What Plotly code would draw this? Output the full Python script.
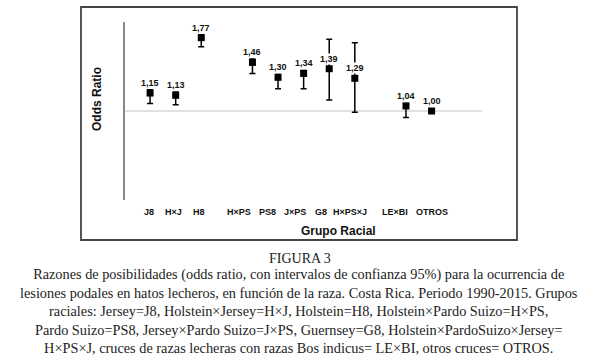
import math
import plotly.graph_objects as go

# ---- data ----
categories = ["J8", "H×J", "H8", " ", "H×PS", "PS8", "J×PS", "G8", "H×PS×J", "  ", "LE×BI", "OTROS"]
groups = ["J8", "H×J", "H8", "H×PS", "PS8", "J×PS", "G8", "H×PS×J", "LE×BI", "OTROS"]
odds_ratio = [1.15, 1.13, 1.77, 1.46, 1.30, 1.34, 1.39, 1.29, 1.04, 1.00]
ci_lower = [1.06, 1.05, 1.65, 1.34, 1.19, 1.19, 1.09, 0.99, 0.95, 1.00]
ci_upper = [1.18, 1.16, 1.81, 1.50, 1.33, 1.37, 1.75, 1.70, 1.06, 1.00]
labels = ["1,15", "1,13", "1,77", "1,46", "1,30", "1,34", "1,39", "1,29", "1,04", "1,00"]

caption_title = "FIGURA 3"
caption_lines = [
    "Razones de posibilidades (odds ratio, con intervalos de confianza 95%) para la ocurrencia de",
    "lesiones podales en hatos lecheros, en función de la raza. Costa Rica. Periodo 1990-2015. Grupos",
    "raciales: Jersey=J8, Holstein×Jersey=H×J, Holstein=H8, Holstein×Pardo Suizo=H×PS,",
    "Pardo Suizo=PS8, Jersey×Pardo Suizo=J×PS, Guernsey=G8, Holstein×PardoSuizo×Jersey=",
    "H×PS×J, cruces de razas lecheras con razas Bos indicus= LE×BI, otros cruces= OTROS.",
]

# ---- layout geometry (page pixels) ----
W, H = 599, 362
L, R, T, B = 125, 482, 22, 200
# horizontal nudge of each category label relative to its marker (style only)
tick_label_nudge = [-1, -2, -2, -13, -11, -9, -8, -5, -11, 0]


def px_x(p):
    return (p - L) / (R - L)


def px_y(p):
    return (B - p) / (B - T)


err_plus = [u - v for u, v in zip(ci_upper, odds_ratio)]
err_minus = [v - l for v, l in zip(odds_ratio, ci_lower)]

fig = go.Figure()
fig.add_trace(go.Scatter(
    x=groups, y=odds_ratio, mode="markers",
    marker=dict(symbol="square", size=7, color="black"),
    error_y=dict(type="data", symmetric=False, array=err_plus, arrayminus=err_minus,
                 color="black", thickness=1.5, width=3),
    showlegend=False, hoverinfo="skip",
))

bold_sans = dict(family="Liberation Sans", size=9, color="#111", weight="bold")
annotations = []
for g, v, lab in zip(groups, odds_ratio, labels):
    annotations.append(dict(
        x=g, y=math.log10(v), xref="x", yref="y", text=lab, showarrow=False,
        yshift=10, yanchor="middle", bgcolor="white", borderpad=0, font=bold_sans,
    ))
for g, dx in zip(groups, tick_label_nudge):
    annotations.append(dict(
        x=g, y=px_y(212), xref="x", yref="paper", text=g, showarrow=False,
        xshift=dx, yanchor="middle", font=bold_sans,
    ))

annotations.append(dict(
    x=px_x(338), y=px_y(231), xref="paper", yref="paper", text="Grupo Racial",
    showarrow=False, xanchor="center", yanchor="middle",
    font=dict(family="Liberation Sans", size=12, color="#111", weight="bold"),
))
annotations.append(dict(
    x=px_x(97), y=px_y(99), xref="paper", yref="paper", text="Odds Ratio",
    showarrow=False, xanchor="center", yanchor="middle", textangle=-90,
    font=dict(family="Liberation Sans", size=12, color="#111", weight="bold"),
))
annotations.append(dict(
    x=px_x(300), y=px_y(258), xref="paper", yref="paper", text=caption_title,
    showarrow=False, xanchor="center", yanchor="middle",
    font=dict(family="Liberation Serif", size=14, color="#222"),
))
annotations.append(dict(
    x=px_x(299), y=px_y(311), xref="paper", yref="paper", text="<br>".join(caption_lines),
    showarrow=False, xanchor="center", yanchor="middle", align="center",
    font=dict(family="Liberation Serif", size=14.3, color="#222"),
))

shapes = [
    dict(type="line", xref="paper", yref="paper", x0=0, x1=1,
         y0=px_y(111), y1=px_y(111),
         line=dict(color="#c4c4c4", width=1), layer="between"),
    dict(type="rect", xref="paper", yref="paper",
         x0=px_x(81), x1=px_x(517), y0=px_y(7), y1=px_y(240),
         line=dict(color="#444", width=1.8), fillcolor="rgba(0,0,0,0)", layer="above"),
]

fig.update_layout(
    width=W, height=H,
    margin=dict(l=L, r=W - R, t=T, b=H - B, autoexpand=False),
    paper_bgcolor="white", plot_bgcolor="white",
    annotations=annotations, shapes=shapes,
    xaxis=dict(
        type="category", categoryorder="array", categoryarray=categories,
        range=[-0.98, 12.97], automargin=False, showticklabels=False,
        showline=False, showgrid=False, zeroline=False, ticks="",
    ),
    yaxis=dict(
        type="log", range=[-0.30103, 0.30103], automargin=False,
        showline=True, linecolor="#888", linewidth=1.5,
        showgrid=False, zeroline=False, ticks="", showticklabels=False,
    ),
)

fig.write_html("out.html", config={"displayModeBar": False},
               post_script="document.body.style.margin='0';")
